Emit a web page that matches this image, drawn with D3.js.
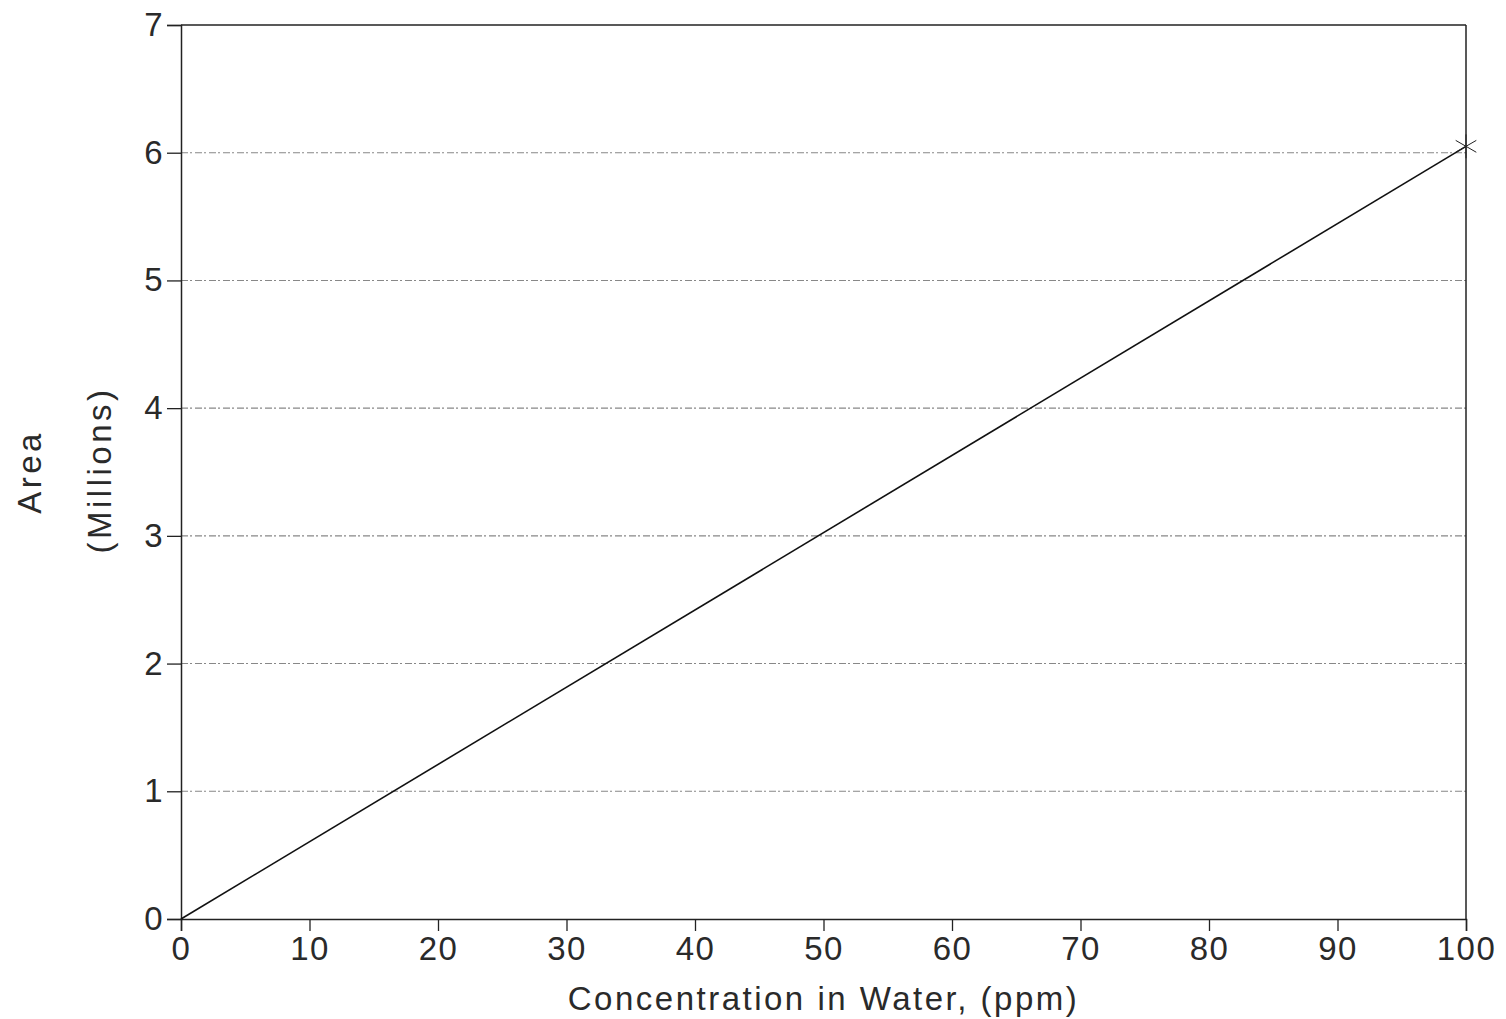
<!DOCTYPE html>
<html>
<head>
<meta charset="utf-8">
<script src="https://cdn.jsdelivr.net/npm/d3@7"></script>
<style>
  body { margin: 0; background: #fff; }
  text { font-family: "Liberation Sans", "DejaVu Sans", sans-serif; fill: #2a2a2a; }
</style>
</head>
<body>
<svg id="chart"></svg>
<script>
var concentration = [0, 100],
    area = [0, 6.05];
var xTicks = [0, 10, 20, 30, 40, 50, 60, 70, 80, 90, 100],
    yTicks = [0, 1, 2, 3, 4, 5, 6, 7];

var margin = {top: 25, right: 40, bottom: 100, left: 181},
    width = 1506 - margin.left - margin.right,
    height = 1019 - margin.top - margin.bottom;

var x = d3.scaleLinear().domain([0, 100]).range([0, width]);
var y = d3.scaleLinear().domain([0, 7]).range([height, 0]);

var svg = d3.select("#chart")
    .attr("width", 1506)
    .attr("height", 1019)
  .append("g")
    .attr("transform", "translate(" + margin.left + "," + margin.top + ")");

// faint grid lines, like the scanned original
svg.selectAll(".grid")
    .data(yTicks.filter(function(d) { return d > 0 && d < 7; }))
  .enter().append("line")
    .attr("class", "grid")
    .attr("x1", 0)
    .attr("x2", width)
    .attr("y1", function(d) { return y(d); })
    .attr("y2", function(d) { return y(d); })
    .attr("stroke", "#888")
    .attr("stroke-width", 1.1)
    .attr("stroke-dasharray", "7,2,2,3");

// frame top and right
svg.append("line")
    .attr("x1", 0).attr("x2", width)
    .attr("y1", 0).attr("y2", 0)
    .attr("stroke", "#222").attr("stroke-width", 1.5);
svg.append("line")
    .attr("x1", width).attr("x2", width)
    .attr("y1", 0).attr("y2", height)
    .attr("stroke", "#222").attr("stroke-width", 1.5);

var xAxis = d3.axisBottom(x)
    .tickValues(xTicks)
    .tickSize(12)
    .tickPadding(6)
    .tickFormat(d3.format("d"));

var yAxis = d3.axisLeft(y)
    .tickValues(yTicks)
    .tickSize(14)
    .tickPadding(3)
    .tickFormat(d3.format("d"));

var gx = svg.append("g")
    .attr("transform", "translate(0," + height + ")")
    .call(xAxis);
var gy = svg.append("g")
    .call(yAxis);

[gx, gy].forEach(function(g) {
  g.select(".domain").attr("stroke", "#222").attr("stroke-width", 1.5);
  g.selectAll(".tick line").attr("stroke", "#222").attr("stroke-width", 1.3);
  g.selectAll(".tick text")
    .style("font-size", "33px")
    .style("letter-spacing", "1.5px")
    .style("font-family", "'Liberation Sans', sans-serif")
    .attr("fill", "#2a2a2a");
});

// axis titles
svg.append("text")
    .attr("x", width / 2)
    .attr("y", height + 91)
    .style("text-anchor", "middle")
    .style("font-size", "33px")
    .style("letter-spacing", "2.5px")
    .text("Concentration in Water, (ppm)");

svg.append("text")
    .attr("transform", "translate(" + (-140) + "," + (472 - margin.top) + ") rotate(-90)")
    .style("text-anchor", "middle")
    .style("font-size", "33px")
    .style("letter-spacing", "3.5px")
    .text("Area");

svg.append("text")
    .attr("transform", "translate(" + (-70) + "," + (470 - margin.top) + ") rotate(-90)")
    .style("text-anchor", "middle")
    .style("font-size", "33px")
    .style("letter-spacing", "3.5px")
    .text("(Millions)");

// data line
var line = d3.line()
    .x(function(d, i) { return x(concentration[i]); })
    .y(function(d) { return y(d); });

svg.append("path")
    .datum(area)
    .attr("d", line)
    .attr("fill", "none")
    .attr("stroke", "#111")
    .attr("stroke-width", 1.6);

// asterisk marker at the last point
var star = d3.symbol().type(d3.symbolAsterisk).size(400);
svg.append("path")
    .attr("d", star())
    .attr("transform", "translate(" + x(concentration[1]) + "," + y(area[1]) + ")")
    .attr("fill", "none")
    .attr("stroke", "#222")
    .attr("stroke-width", 1);
</script>
</body>
</html>
